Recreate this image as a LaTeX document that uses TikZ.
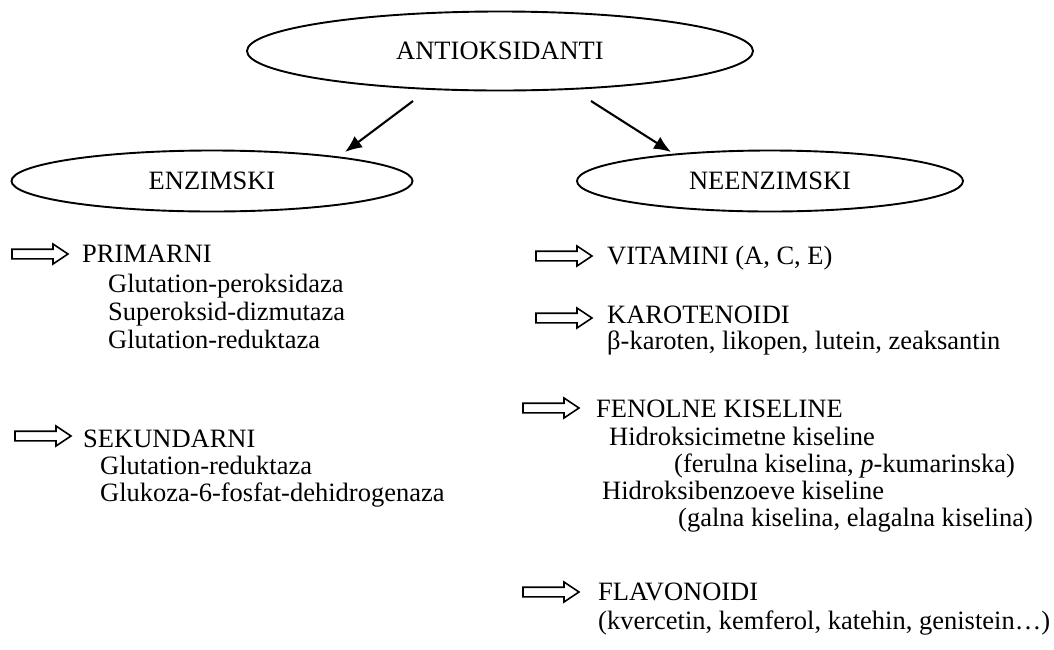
\documentclass[tikz,border=0pt]{standalone}
\usepackage{fontspec}
\setmainfont{Liberation Serif}
\usetikzlibrary{shapes.geometric,arrows.meta}
\tikzset{
  x=1pt,y=-1pt,
  every node/.style={font=\fontsize{26.5}{31}\selectfont, inner sep=0pt},
  oval/.style={ellipse, draw, line width=1.9pt},
  txt/.style={anchor=base west},
  conn/.style={line width=2.1pt, -{Latex[length=17pt,width=14pt]}},
  blockarr/.pic={\draw[line width=1.6pt, line join=miter]
     (0,-4.8) -- (41,-4.8) -- (41,-10) -- (56,0) -- (41,10) -- (41,4.8) -- (0,4.8) -- cycle;}
}
\begin{document}
\begin{tikzpicture}
\useasboundingbox (0,0) rectangle (1054,649);
% ellipses
\node[oval, minimum width=506pt, minimum height=79pt] (ant) at (500,51) {ANTIOKSIDANTI};
\node[oval, minimum width=401pt, minimum height=61pt] (enz) at (212,181) {ENZIMSKI};
\node[oval, minimum width=386pt, minimum height=61pt] (neen) at (770,181) {NEENZIMSKI};
% connectors
\coordinate (s1) at (413,101);
\coordinate (t1) at (345,152);
\coordinate (s2) at (591,101);
\coordinate (t2) at (671,152);
\draw[conn] (s1) -- (t1);
\draw[conn] (s2) -- (t2);
% left column
\pic at (12,254) {blockarr};
\node[txt] (prim) at (82,262) {PRIMARNI};
\node[txt] (p1) at (108,292) {Glutation-peroksidaza};
\node[txt] (p2) at (108,320) {Superoksid-dizmutaza};
\node[txt] (p3) at (108,348) {Glutation-reduktaza};
\pic at (15,436) {blockarr};
\node[txt] (sek) at (83,447) {SEKUNDARNI};
\node[txt] (s1t) at (100,474) {Glutation-reduktaza};
\node[txt] (s2t) at (100,501) {Glukoza-6-fosfat-dehidrogenaza};
% right column
\pic at (536,256) {blockarr};
\node[txt] (vit) at (607,264) {VITAMINI (A, C, E)};
\pic at (536,318) {blockarr};
\node[txt] (kar) at (607,323) {KAROTENOIDI};
\node[txt] (k1) at (607,349) {β-karoten, likopen, lutein, zeaksantin};
\pic at (523,408) {blockarr};
\node[txt] (fen) at (596,417) {FENOLNE KISELINE};
\node[txt] (f1) at (609,445) {Hidroksicimetne kiseline};
\node[txt] (f2) at (674,472) {(ferulna kiselina, \textit{p}-kumarinska)};
\node[txt] (f3) at (602,499) {Hidroksibenzoeve kiseline};
\node[txt] (f4) at (678,526) {(galna kiselina, elagalna kiselina)};
\pic at (523,592) {blockarr};
\node[txt] (fla) at (598,600) {FLAVONOIDI};
\node[txt] (fl1) at (598,629) {(kvercetin, kemferol, katehin, genistein…)};
\end{tikzpicture}
\end{document}
